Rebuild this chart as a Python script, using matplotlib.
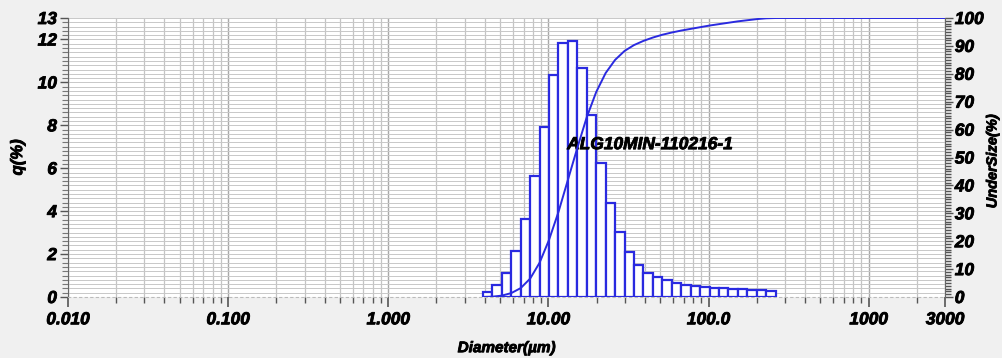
import numpy as np
import matplotlib
matplotlib.use("Agg")
import matplotlib.pyplot as plt
import matplotlib.patheffects as pe
from matplotlib.ticker import FixedLocator, MultipleLocator, NullFormatter

# channel edges (um) of the size classes that carry signal
edges = [3.905, 4.472, 5.122, 5.867, 6.720, 7.697, 8.816, 10.097, 11.565, 13.246,
         15.172, 17.377, 19.904, 22.797, 26.111, 29.907, 34.255, 39.234, 44.938,
         51.471, 58.953, 67.523, 77.340, 88.583, 101.460, 116.210, 133.103,
         152.453, 174.616, 200.000, 229.075, 262.376]

# frequency q(%) per channel
q = [0.25, 0.55, 1.10, 2.15, 3.65, 5.65, 7.90, 10.35, 11.85, 11.95, 10.65, 8.50,
     6.25, 4.40, 3.05, 2.10, 1.50, 1.12, 0.92, 0.78, 0.66, 0.58, 0.52, 0.47,
     0.43, 0.40, 0.37, 0.35, 0.33, 0.31, 0.28]

# undersize (%) at each channel edge, plus the end of the scale
under_x = edges + [3000.0]
under_y = [0.0, 0.1, 0.5, 1.4, 3.2, 6.6, 12.3, 20.5, 30.5, 42.0, 53.5, 64.5, 73.5,
           80.3, 85.0, 88.2, 90.3, 91.8, 93.0, 94.0, 94.8, 95.5, 96.1, 96.7, 97.3,
           97.8, 98.3, 98.8, 99.2, 99.6, 99.9, 100.0, 100.0]

xticks = [0.01, 0.1, 1, 10, 100, 1000, 3000]
xticklabels = ["0.010", "0.100", "1.000", "10.00", "100.0", "1000", "3000"]
yticks_left = [0, 2, 4, 6, 8, 10, 12, 13]
yticks_right = list(range(0, 101, 10))
sample_name = "ALG10MIN-110216-1"

plt.rcParams["font.family"] = ["Liberation Sans", "DejaVu Sans"]
heavy = [pe.withStroke(linewidth=0.6, foreground="black")]
bold_it = dict(fontweight="bold", fontstyle="italic", path_effects=heavy)
blue = "#2a2ae0"

fig = plt.figure(figsize=(10.03, 3.58), dpi=100, facecolor="#f0f0f0")
ax = fig.add_axes([0.0678, 0.1704, 0.8744, 0.7793])
ax.set_facecolor("white")
ax.set_xscale("log")
ax.set_xlim(0.01, 3000)
ax.set_ylim(0, 13)

# grid
minor_x = [m * 10.0 ** e for e in range(-2, 4) for m in range(2, 10)]
minor_x = [v for v in minor_x if v < 3000]
ax.xaxis.set_major_locator(FixedLocator(xticks))
ax.xaxis.set_minor_locator(FixedLocator(minor_x))
ax.xaxis.set_minor_formatter(NullFormatter())
ax.set_xticklabels(xticklabels, fontsize=12.5, **bold_it)
ax.yaxis.set_major_locator(FixedLocator(yticks_left))
ax.yaxis.set_minor_locator(MultipleLocator(0.2))
ax.set_yticklabels([str(v) for v in yticks_left], fontsize=12.5, **bold_it)
ax.grid(True, which="major", axis="x", color="#a8a8a8", lw=1.0)
ax.grid(True, which="minor", axis="x", color="#c4c4c4", lw=0.9)
ax.grid(True, which="both", axis="y", color="#c8c8c8", lw=0.7)
ax.set_axisbelow(True)

ax.tick_params(axis="x", which="major", length=7, width=1.2, color="#555555", pad=4)
ax.tick_params(axis="x", which="minor", length=4, width=1.0, color="#555555")
ax.tick_params(axis="y", which="major", length=6, width=1.0, color="#555555", pad=2)
ax.tick_params(axis="y", which="minor", length=4, width=0.8, color="#777777")

ax.spines["top"].set_visible(False)
ax.spines["bottom"].set_color("#bbbbbb")
ax.spines["bottom"].set_linestyle((0, (2, 3)))
ax.spines["left"].set_color("#666666")
ax.spines["right"].set_visible(False)

# histogram
left = np.array(edges[:-1])
widths = np.array(edges[1:]) - left
ax.bar(left, q, width=widths, align="edge", facecolor="white", edgecolor=blue,
       linewidth=1.6, zorder=3)

ax.text(13.1, 7.1, sample_name, fontsize=12.5, color="black", va="center",
        ha="left", zorder=5, **bold_it)
ax.set_ylabel("q(%)", fontsize=12, labelpad=9, **bold_it)
ax.set_xlabel("Diameter(\u00b5m)", fontsize=11, labelpad=10, **bold_it)

# cumulative undersize on the right axis
ax2 = ax.twinx()
ax2.set_ylim(0, 100)
ax2.plot(under_x, under_y, color=blue, lw=1.4, zorder=4)
ax2.yaxis.set_major_locator(FixedLocator(yticks_right))
ax2.yaxis.set_minor_locator(MultipleLocator(1))
ax2.set_yticklabels([str(v) for v in yticks_right], fontsize=12.5, **bold_it)
ax2.tick_params(axis="y", which="major", length=6, width=1.0, color="#555555", pad=1)
ax2.tick_params(axis="y", which="minor", length=4, width=1.0, color="#555555")
ax2.spines["right"].set_color("#666666")
for side in ["top", "left", "bottom"]:
    ax2.spines[side].set_visible(False)
fig.text(0.9895, 0.55, "UnderSize(%)", rotation=90, ha="center", va="center",
         fontsize=10.5, **bold_it)

fig.savefig("out.png", dpi=100, facecolor=fig.get_facecolor())
